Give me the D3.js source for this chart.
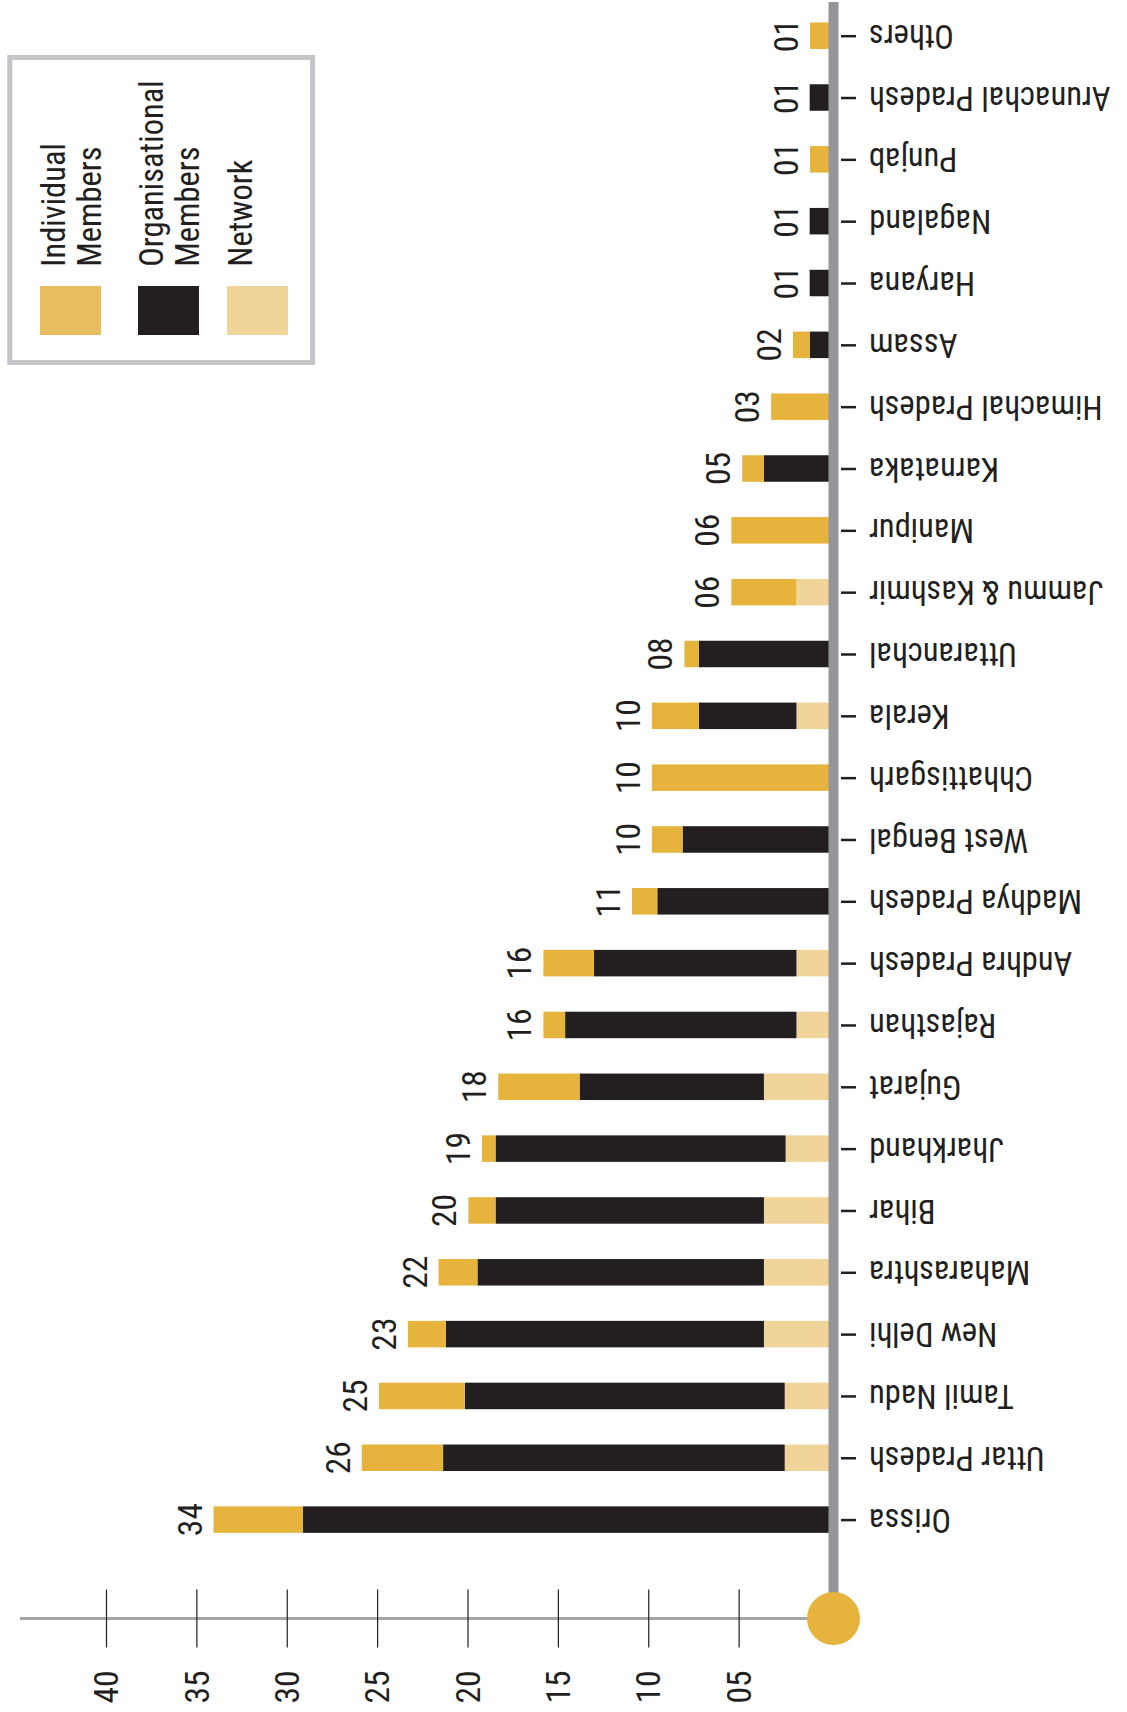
<!DOCTYPE html>
<html>
<head>
<meta charset="utf-8">
<script src="https://cdn.jsdelivr.net/npm/d3@7"></script>
<style>
  html, body { margin: 0; padding: 0; background: #ffffff; }
  svg { display: block; }
  text { font-family: 'Liberation Sans Narrow', 'Arial Narrow', 'Roboto Condensed', sans-serif; fill: #231f20; }
</style>
</head>
<body>
<svg id="chart" width="1127" height="1712"></svg>
<script>
// ---- data (top to bottom) ----
const states = ["Others", "Arunachal Pradesh", "Punjab", "Nagaland", "Haryana", "Assam",
  "Himachal Pradesh", "Karnataka", "Manipur", "Jammu & Kashmir", "Uttaranchal", "Kerala",
  "Chhattisgarh", "West Bengal", "Madhya Pradesh", "Andhra Pradesh", "Rajasthan", "Gujarat",
  "Jharkhand", "Bihar", "Maharashtra", "New Delhi", "Tamil Nadu", "Uttar Pradesh", "Orissa"];
const individual     = [1.05, 0, 1.05, 0, 0, 0.92, 3.2, 1.2, 5.4, 3.6, 0.8, 2.6, 9.8, 1.7, 1.4, 2.8, 1.2, 4.5, 0.75, 1.5, 2.15, 2.1, 4.75, 4.5, 4.95];
const organisational = [0, 1.07, 0, 1.07, 1.07, 1.07, 0, 3.6, 0, 0, 7.2, 5.4, 0, 8.1, 9.5, 11.2, 12.8, 10.2, 16.05, 14.85, 15.85, 17.6, 17.7, 18.9, 29.1];
const network        = [0, 0, 0, 0, 0, 0, 0, 0, 0, 1.8, 0, 1.8, 0, 0, 0, 1.8, 1.8, 3.6, 2.4, 3.6, 3.6, 3.6, 2.45, 2.45, 0];
const totals         = [1, 1, 1, 1, 1, 2, 3, 5, 6, 6, 8, 10, 10, 10, 11, 16, 16, 18, 19, 20, 22, 23, 25, 26, 34];
const valueTicks     = [5, 10, 15, 20, 25, 30, 35, 40];
const seriesKeys     = ["network", "organisational", "individual"]; // from axis outward
const legendItems    = [
  {key: "individual", lines: ["Individual", "Members"]},
  {key: "organisational", lines: ["Organisational", "Members"]},
  {key: "network", lines: ["Network"]}
];

// ---- styles ----
const barColor = {individual: "#e6b33c", organisational: "#231f20", network: "#f0d49a"};
const swatchColor = {individual: "#e8bd5f", organisational: "#231f20", network: "#f0d49a"};
const FS = 32.5;
const NFS = 33.5;

const rows = states.map((s, i) => ({
  state: s, individual: individual[i], organisational: organisational[i],
  network: network[i], total: totals[i]
}));

const svg = d3.select("#chart");

// scales
const x = d3.scaleLinear().domain([0, 40]).range([829, 106]);
const y = d3.scalePoint().domain(states).range([35.7, 1519.6]);
const barH = 26.5;

// stacked bars
const stacked = d3.stack().keys(seriesKeys)(rows);
const layers = svg.append("g").selectAll("g").data(stacked).join("g")
  .attr("fill", d => barColor[d.key]);
layers.selectAll("rect").data(d => d).join("rect")
  .attr("x", d => x(d[1]))
  .attr("y", d => y(d.data.state) - barH / 2)
  .attr("width", d => Math.max(0, x(d[0]) - x(d[1])))
  .attr("height", barH);

// value labels
const fmt = d3.format("02d");
svg.append("g").selectAll("text").data(rows).join("text")
  .attr("transform", d => {
    const end = d.individual + d.organisational + d.network;
    return `translate(${x(end) - 12},${y(d.state)}) rotate(-90)`;
  })
  .attr("text-anchor", "middle")
  .style("font-size", NFS + "px")
  .text(d => fmt(d.total));

// vertical category axis (grey bar) + circle
const axisX = 833.5;
svg.append("rect")
  .attr("x", axisX - 5).attr("y", 2)
  .attr("width", 10).attr("height", 1618 - 2)
  .attr("fill", "#939598");

// horizontal value axis line
svg.append("line")
  .attr("x1", 20).attr("x2", axisX).attr("y1", 1618.5).attr("y2", 1618.5)
  .attr("stroke", "#a3a5a8").attr("stroke-width", 3);

// value axis ticks & labels via d3.axisBottom
const xAxis = d3.axisBottom(x).tickValues(valueTicks).tickSize(58).tickFormat(fmt);
const gx = svg.append("g").attr("transform", "translate(0,1589.5)").call(xAxis);
gx.select(".domain").remove();
gx.selectAll(".tick line").attr("stroke", "#231f20").attr("stroke-width", 1.2);
gx.selectAll(".tick text")
  .attr("y", null).attr("dy", "0.35em")
  .attr("transform", "translate(0,97.5) rotate(-90)")
  .attr("text-anchor", "middle")
  .style("font-size", NFS + "px")
  .attr("fill", "#231f20");

svg.append("circle")
  .attr("cx", axisX).attr("cy", 1618.5).attr("r", 26.5)
  .attr("fill", "#e6b33c");

// category axis ticks & labels via d3.axisRight
const yAxis = d3.axisRight(y).tickSize(15).tickPadding(0);
const gy = svg.append("g").attr("transform", "translate(841,0)").call(yAxis);
gy.select(".domain").remove();
gy.selectAll(".tick line").attr("stroke", "#231f20").attr("stroke-width", 2.5);
gy.selectAll(".tick text")
  .attr("x", null).attr("dy", "0.35em")
  .attr("text-anchor", "end")
  .attr("transform", "translate(28,0) rotate(180)")
  .style("font-size", FS + "px")
  .attr("fill", "#231f20");

// legend
const lg = svg.append("g");
lg.append("rect")
  .attr("x", 9.8).attr("y", 57.5).attr("width", 302.7).attr("height", 305)
  .attr("fill", "none").attr("stroke", "#c4c5c8").attr("stroke-width", 5);
const swatchX = [40, 138, 227];
legendItems.forEach((item, i) => {
  lg.append("rect")
    .attr("x", swatchX[i]).attr("y", 286).attr("width", 61).attr("height", 49)
    .attr("fill", swatchColor[item.key]);
  item.lines.forEach((ln, j) => {
    lg.append("text")
      .attr("transform", `translate(${swatchX[i] + 24.5 + j * 36.3},266.7) rotate(-90)`)
      .attr("text-anchor", "start")
      .style("font-size", FS + "px")
      .text(ln);
  });
});
</script>
</body>
</html>
